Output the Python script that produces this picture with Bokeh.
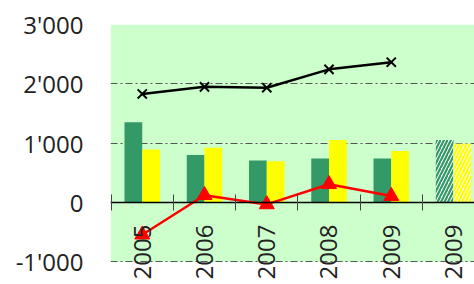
from math import pi
from bokeh.plotting import figure
from bokeh.models import FixedTicker, ColumnDataSource, Range1d, BoxAnnotation
from bokeh.transform import dodge
from bokeh.embed import file_html
from bokeh.resources import INLINE

# ---- data ----
years = ["2005", "2006", "2007", "2008", "2009", "2009"]
green_vals = [1355, 800, 710, 745, 745, 1055]
yellow_vals = [895, 925, 695, 1055, 870, 990]
hatched = [False, False, False, False, False, True]
black_vals = [1830, 1950, 1935, 2245, 2365]
red_vals = [-540, 125, -30, 310, 110]
y_ticks = [-1000, 0, 1000, 2000, 3000]
y_tick_labels = ["-1'000", "0", "1'000", "2'000", "3'000"]

xs = list(range(len(years)))
solid_idx = [i for i in xs if not hatched[i]]
hatch_idx = [i for i in xs if hatched[i]]

solid = ColumnDataSource(dict(x=solid_idx,
                              g=[green_vals[i] for i in solid_idx],
                              yv=[yellow_vals[i] for i in solid_idx]))
hsrc = ColumnDataSource(dict(x=hatch_idx,
                             g=[green_vals[i] for i in hatch_idx],
                             yv=[yellow_vals[i] for i in hatch_idx]))
lines = ColumnDataSource(dict(x=xs[:len(black_vals)], b=black_vals, r=red_vals))

FONT = "Open Sans"
GREEN = "#339966"
YELLOW = "#FFFF00"
BG = "#CCFFCC"

p = figure(width=474, height=284,
           x_range=Range1d(-0.51, 5.337), y_range=Range1d(-1379, 3000),
           output_backend="svg", toolbar_location=None,
           min_border_left=110, min_border_right=0,
           min_border_top=24, min_border_bottom=0,
           background_fill_color="white", border_fill_color="white",
           outline_line_color=None)

# green plot area (from -1000 to 3000), drawn beneath grid lines
area = BoxAnnotation(bottom=y_ticks[0], top=y_ticks[-1], fill_color=BG, fill_alpha=1,
                     line_color=None, level="underlay")
p.center = [area] + list(p.center)

bw = 0.285
p.vbar(x=dodge("x", -bw / 2), top="g", width=bw, bottom=0, source=solid,
       fill_color=GREEN, line_color=None)
p.vbar(x=dodge("x", bw / 2), top="yv", width=bw, bottom=0, source=solid,
       fill_color=YELLOW, line_color=None)
p.vbar(x=dodge("x", -bw / 2), top="g", width=bw, bottom=0, source=hsrc,
       fill_color="white", line_color=None, hatch_pattern="/",
       hatch_color=GREEN, hatch_scale=7, hatch_weight=2.2)
p.vbar(x=dodge("x", bw / 2), top="yv", width=bw, bottom=0, source=hsrc,
       fill_color="white", line_color=None, hatch_pattern="/",
       hatch_color=YELLOW, hatch_scale=7, hatch_weight=2.2)

p.line("x", "b", source=lines, line_color="black", line_width=2.5)
p.scatter("x", "b", source=lines, marker="x", size=13, line_color="black", line_width=2)
p.line("x", "r", source=lines, line_color="#FF0000", line_width=2.5)
p.scatter("x", "r", source=lines, marker="triangle", size=15,
          fill_color="#FF0000", line_color="#FF0000")

# y axis
yt = FixedTicker(ticks=y_ticks)
p.yaxis.ticker = yt
p.yaxis.major_label_overrides = {t: l for t, l in zip(y_ticks, y_tick_labels)}
p.yaxis.axis_line_color = None
p.yaxis.major_tick_in = 0
p.yaxis.major_tick_out = 0
p.yaxis.minor_tick_in = 0
p.yaxis.minor_tick_out = 0
p.yaxis.major_label_standoff = 27
p.yaxis.major_label_text_font = FONT
p.yaxis.major_label_text_font_size = "24px"
p.yaxis.major_label_text_color = "#222222"

p.ygrid.ticker = yt
p.ygrid.grid_line_color = "#555555"
p.ygrid.grid_line_dash = "7 3 2 3"
p.ygrid.grid_line_width = 1
p.xgrid.visible = False

# x axis at zero
p.xaxis.fixed_location = 0
p.xaxis.ticker = FixedTicker(ticks=xs, minor_ticks=[i - 0.5 for i in xs] + [len(xs) - 0.5])
p.xaxis.major_label_overrides = {i: y for i, y in zip(xs, years)}
p.xaxis.major_label_orientation = pi / 2
p.xaxis.major_label_standoff = 14
p.xaxis.major_label_text_font = FONT
p.xaxis.major_label_text_font_size = "24px"
p.xaxis.major_label_text_color = "#222222"
p.xaxis.major_tick_in = 0
p.xaxis.major_tick_out = 0
p.xaxis.minor_tick_in = 8
p.xaxis.minor_tick_out = 8
p.xaxis.minor_tick_line_color = "#444444"
p.xaxis.axis_line_color = "black"
p.xaxis.axis_line_width = 1.3

open("out.html", "w").write(file_html(p, INLINE))
